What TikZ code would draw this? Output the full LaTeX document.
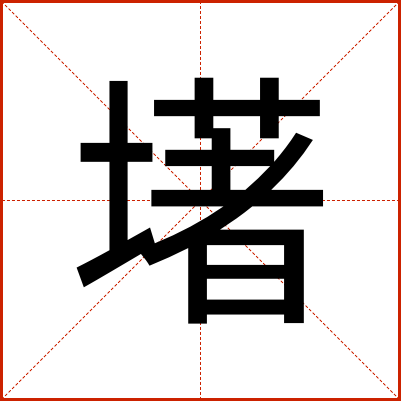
\documentclass[tikz,border=0pt]{standalone}
\usepackage{fontspec}
\newfontfamily\cjk{Noto Sans CJK SC}
\definecolor{gitterrot}{RGB}{204,34,0}

\begin{document}
\begin{tikzpicture}[x=1bp,y=1bp]
				% Einstellungen für Rahmen und Hilfslinien
				\tikzset{
					rahmen/.style={
						draw=gitterrot, % Rote Umrandung
						line width=3bp % Dicke Linie
					},
					hilfslinie/.style={
						draw=gitterrot, % Rote Hilfslinie
						line width=0.8bp, % Dünne Linie
						dash pattern=on 3bp off 2bp % Gestrichelt
					},
					zeichen/.style={
						font=\cjk\fontsize{268}{268}\selectfont, % Schriftgröße des Zeichens
						inner sep=0pt, % Kein Innenabstand
						text=black % Textfarbe
					}
				}
				\useasboundingbox (0,0) rectangle (401,401);
				
				% Eckpunkte und Mittelpunkte
				\coordinate (lu) at (1.5,1.5);
				\coordinate (ro) at (399.5,399.5);
				\coordinate (lo) at (1.5,399.5);
				\coordinate (ru) at (399.5,1.5);
				\coordinate (mo) at (200.5,399.5);
				\coordinate (mu) at (200.5,1.5);
				\coordinate (ml) at (1.5,200.5);
				\coordinate (mr) at (399.5,200.5);
				
				% Hilfslinien (Mittellinien und Diagonalen)
				\draw[hilfslinie] (mo) -- (mu);
				\draw[hilfslinie] (ml) -- (mr);
				\draw[hilfslinie] (lu) -- (ro);
				\draw[hilfslinie] (lo) -- (ru);
				
				% Rahmen
				\draw[rahmen] (lu) rectangle (ro);
				
				% Das Zeichen
				\node[zeichen] (schriftzeichen) at (201,199.5) {墸};
			\end{tikzpicture}
\end{document}
